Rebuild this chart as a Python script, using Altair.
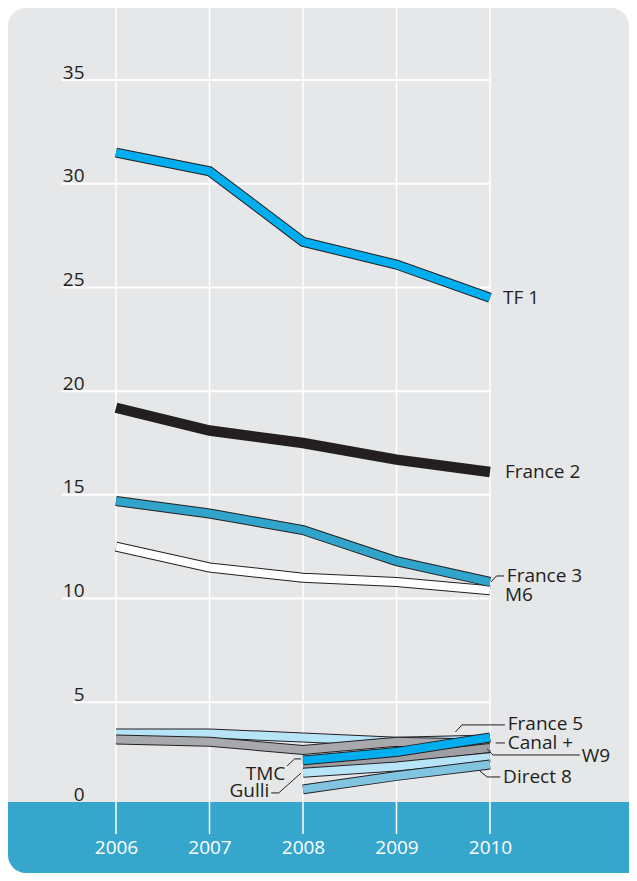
import altair as alt
import pandas as pd

# ---------------- data ----------------
years = [2006, 2007, 2008, 2009, 2010]
tf1 = [31.5, 30.6, 27.2, 26.1, 24.5]
france2 = [19.2, 18.1, 17.5, 16.7, 16.1]
france3 = [14.7, 14.1, 13.3, 11.8, 10.8]
m6 = [12.5, 11.5, 11.0, 10.8, 10.4]
france5 = [3.5, 3.5, 3.3, 3.1, 3.2]
canal_plus = [3.2, 3.1, 2.7, 3.1, 3.0]
tmc = [None, None, 2.2, 2.6, 3.3]
w9 = [None, None, 2.0, 2.3, 2.8]
gulli = [None, None, 1.6, 1.9, 2.35]
direct8 = [None, None, 0.8, 1.45, 2.0]

y_ticks = [0, 5, 10, 15, 20, 25, 30, 35]

# drawing order (bottom -> top): name, values, colour
series = [
    ("M6", m6, "#ffffff"),
    ("France 3", france3, "#30a4cb"),
    ("France 2", france2, None),
    ("TF 1", tf1, "#00aeef"),
    ("France 5", france5, "#b8e4f8"),
    ("Canal +", canal_plus, "#a7a9ac"),
    ("W9", w9, "#9d9fa2"),
    ("Gulli", gulli, "#b8e4f8"),
    ("Direct 8", direct8, "#80c4e0"),
    ("TMC", tmc, "#00aeef"),
]

# annotation placement (data units)
labels_left = [
    ("TF 1", 2010.14, 24.5),
    ("France 2", 2010.16, 16.1),
    ("France 3", 2010.18, 11.1),
    ("M6", 2010.16, 10.15),
    ("France 5", 2010.19, 3.93),
    ("Canal +", 2010.19, 3.04),
    ("W9", 2010.98, 2.42),
    ("Direct 8", 2010.14, 1.38),
]
labels_right = [
    ("TMC", 2007.81, 1.52),
    ("Gulli", 2007.64, 0.72),
]
leaders = {
    "France 3": [(2010.01, 10.8), (2010.07, 11.09), (2010.15, 11.09)],
    "France 5": [(2009.63, 3.57), (2009.70, 3.91), (2010.16, 3.91)],
    "Canal +": [(2010.06, 3.04), (2010.16, 3.04)],
    "W9": [(2009.97, 2.75), (2010.03, 2.46), (2010.96, 2.46)],
    "Direct 8": [(2009.89, 1.69), (2009.97, 1.40), (2010.11, 1.40)],
    "TMC": [(2007.98, 2.27), (2007.91, 2.27), (2007.83, 1.93)],
    "Gulli": [(2007.98, 1.59), (2007.74, 0.63), (2007.66, 0.63)],
}

# ---------------- styling ----------------
W, H = 621, 865
TEXT = "#231f20"
FONT = "Open Sans"
xscale = alt.Scale(domain=[2006, 2010], range=[108, 482], nice=False, zero=False)
yscale = alt.Scale(domain=[0, 35], range=[798, 72], nice=False, zero=False)

xaxis = alt.Axis(values=years, format="d", labelColor="white", labelFont=FONT,
                 labelFontSize=19, domain=False, ticks=False, grid=False,
                 labelPadding=0, offset=-26, labelBaseline="middle", title=None,
                 zindex=2, labelFlush=False, labelOverlap=False)
yaxis = alt.Axis(values=y_ticks, orient="left", offset=-76, labelAlign="right",
                 labelBaseline="alphabetic", labelPadding=0, domain=False,
                 ticks=False, tickSize=0, grid=False, labelColor=TEXT,
                 labelFont=FONT, labelFontSize=19, title=None, zindex=2,
                 labelOffset={"condition": {"test": "datum.value === 0", "value": -6},
                              "value": -2},
                 labelFlush=False, labelOverlap=False)


def X(field):
    return alt.X(field, type="quantitative", scale=xscale, axis=xaxis)


def Y(field):
    return alt.Y(field, type="quantitative", scale=yscale, axis=yaxis)


# horizontal grid lines (start at the left edge of each label)
grid_df = pd.DataFrame({
    "tick": y_ticks,
    "x0": [2005.66 - 0.12 * len(str(t)) for t in y_ticks],
    "x1": [2010] * len(y_ticks),
})
hgrid = alt.Chart(grid_df).mark_rule(color="white", strokeWidth=2).encode(
    x=X("x0"), x2="x1", y=Y("tick"))

band = alt.Chart(pd.DataFrame({"a": [0]})).mark_rect(
    color="#36a6cc", cornerRadiusBottomLeft=18).encode(
    x=alt.value(0), x2=alt.value(W), y=alt.value(794), y2=alt.value(H))

vgrid = alt.Chart(pd.DataFrame({"year": years})).mark_rule(
    color="white", strokeWidth=1.5).encode(
    x=X("year"), y=alt.value(0), y2=alt.value(826))

layers = [hgrid, band, vgrid]

for name, vals, col in series:
    df = pd.DataFrame({"year": years, "value": vals}).dropna()
    base = alt.Chart(df)
    if col is None:
        layers.append(base.mark_line(color=TEXT, strokeWidth=10.5, strokeCap="butt",
                                     strokeJoin="miter").encode(x=X("year"), y=Y("value")))
    else:
        layers.append(base.mark_line(color=TEXT, strokeWidth=10, strokeCap="butt",
                                     strokeJoin="miter").encode(x=X("year"), y=Y("value")))
        layers.append(base.mark_line(color=col, strokeWidth=8, strokeCap="butt",
                                     strokeJoin="miter").encode(x=X("year"), y=Y("value")))

lead_rows = []
for key, pts in leaders.items():
    for i, (lx, ly) in enumerate(pts):
        lead_rows.append({"id": key, "i": i, "lx": lx, "ly": ly})
lead = alt.Chart(pd.DataFrame(lead_rows)).mark_line(
    color=TEXT, strokeWidth=1).encode(
    x=X("lx"), y=Y("ly"), detail="id:N", order="i:Q")
layers.append(lead)

ll = pd.DataFrame(labels_left, columns=["name", "lx", "ly"])
lr = pd.DataFrame(labels_right, columns=["name", "lx", "ly"])
layers.append(alt.Chart(ll).mark_text(align="left", baseline="middle", font=FONT,
                                      fontSize=19, color=TEXT).encode(
    x=X("lx"), y=Y("ly"), text="name:N"))
layers.append(alt.Chart(lr).mark_text(align="right", baseline="middle", font=FONT,
                                      fontSize=19, color=TEXT).encode(
    x=X("lx"), y=Y("ly"), text="name:N"))

chart = alt.layer(*layers).properties(
    width=W, height=H, padding=0,
    autosize=alt.AutoSizeParams(type="none"),
    background="white",
).configure_view(fill="#e6e7e8", stroke=None, cornerRadius=18)

chart.save("out.html", embed_options={"renderer": "svg", "actions": False})
